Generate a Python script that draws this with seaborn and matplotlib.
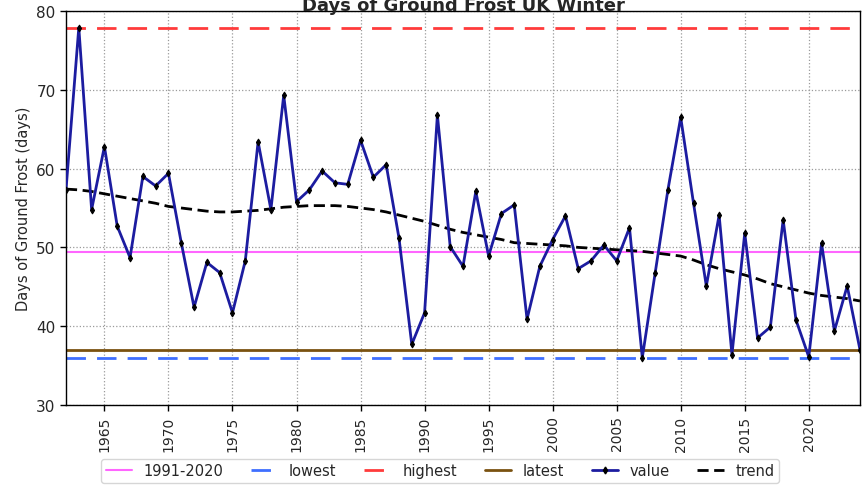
import numpy as np
import pandas as pd
import matplotlib
matplotlib.use("Agg")
import matplotlib.pyplot as plt
import seaborn as sns
from matplotlib.lines import Line2D

years = list(range(1962, 2025))
frost_days = [57.3, 77.9, 54.8, 62.8, 52.7, 48.7, 59.0, 57.8, 59.4, 50.6,
              42.4, 48.1, 46.8, 41.7, 48.3, 63.4, 54.8, 69.3, 55.8, 57.3,
              59.7, 58.2, 58.0, 63.6, 58.9, 60.5, 51.2, 37.7, 41.7, 66.8,
              50.1, 47.6, 57.1, 48.9, 54.3, 55.4, 40.9, 47.6, 51.0, 54.0,
              47.3, 48.3, 50.3, 48.3, 52.5, 36.0, 46.7, 57.3, 66.5, 55.6,
              45.1, 54.1, 36.4, 51.8, 38.5, 39.9, 53.5, 40.8, 36.1, 50.5,
              39.4, 45.1, 37.0]
trend_days = [57.4, 57.3, 57.1, 56.8, 56.5, 56.2, 55.9, 55.6, 55.2, 55.0,
              54.8, 54.6, 54.5, 54.5, 54.6, 54.7, 54.9, 55.1, 55.2, 55.3,
              55.3, 55.3, 55.2, 55.0, 54.8, 54.5, 54.1, 53.7, 53.3, 52.8,
              52.3, 51.9, 51.6, 51.3, 51.0, 50.6, 50.5, 50.4, 50.3, 50.2,
              50.0, 49.9, 49.8, 49.7, 49.6, 49.5, 49.3, 49.1, 48.9, 48.4,
              47.8, 47.3, 46.9, 46.5, 46.0, 45.4, 45.0, 44.6, 44.2, 43.9,
              43.7, 43.5, 43.2]
ref_labels = ["1991-2020", "lowest", "highest", "latest"]
ref_values = [49.4, 36.0, 77.9, 37.0]
x_ticks = list(range(1965, 2021, 5))
y_ticks = [30, 40, 50, 60, 70, 80]

df = pd.DataFrame({"year": years, "value": frost_days, "trend": trend_days})

sns.set_theme(style="white")
plt.rcParams["font.family"] = ["DejaVu Sans"]

fig = plt.figure(figsize=(8.68, 4.89), dpi=100)
ax = fig.add_axes([66 / 868, 1 - 406 / 489, (860 - 66) / 868, (406 - 12) / 489])

ref_styles = {
    "1991-2020": dict(color="#ff66ff", lw=1.5, ls="-"),
    "lowest": dict(color="#3f6fff", lw=2.0, ls=(0, (7, 4))),
    "highest": dict(color="#ff3b3b", lw=2.0, ls=(0, (7, 4))),
    "latest": dict(color="#7a5210", lw=2.0, ls="-"),
}
for lab, val in zip(ref_labels, ref_values):
    ax.axhline(val, zorder=2, **ref_styles[lab])

sns.lineplot(data=df, x="year", y="value", ax=ax, color="#1c1ca0", lw=2.0,
             marker="d", markersize=3.5, markerfacecolor="black",
             markeredgecolor="black", zorder=4)
sns.lineplot(data=df, x="year", y="trend", ax=ax, color="black", lw=2.0,
             zorder=3)
ax.lines[-1].set_linestyle((0, (4, 2)))

ax.set_xlim(1962, 2024)
ax.set_ylim(30, 80)
ax.set_xticks(x_ticks)
ax.set_yticks(y_ticks)
ax.set_xticklabels([str(t) for t in x_ticks], rotation=90, fontsize=10)
ax.tick_params(axis="y", labelsize=11)
ax.tick_params(axis="both", length=4, width=1, color="black", direction="out",
               bottom=True, left=True)
ax.grid(True, color="#9a9a9a", ls=":", lw=0.9)
ax.set_xlabel("")
ax.set_ylabel("Days of Ground Frost (days)", fontsize=10.5)
for s in ax.spines.values():
    s.set_color("black")
    s.set_linewidth(1.0)

ax.set_title("Days of Ground Frost UK Winter", fontsize=13, fontweight="bold",
             pad=-2, va="bottom")

handles = [Line2D([], [], **ref_styles[lab]) for lab in ref_labels]
handles.append(Line2D([], [], color="#1c1ca0", lw=2, marker="d", markersize=3.5,
                      markerfacecolor="black", markeredgecolor="black"))
handles.append(Line2D([], [], color="black", lw=2, ls=(0, (4, 2))))
labels = ref_labels + ["value", "trend"]
fig.legend(handles, labels, loc="lower center", bbox_to_anchor=(440 / 868, -0.004),
           ncol=6, fontsize=10.5, frameon=True, edgecolor="#cccccc",
           handlelength=1.8, columnspacing=1.9, borderpad=0.3)

fig.savefig("out.png", dpi=100)
